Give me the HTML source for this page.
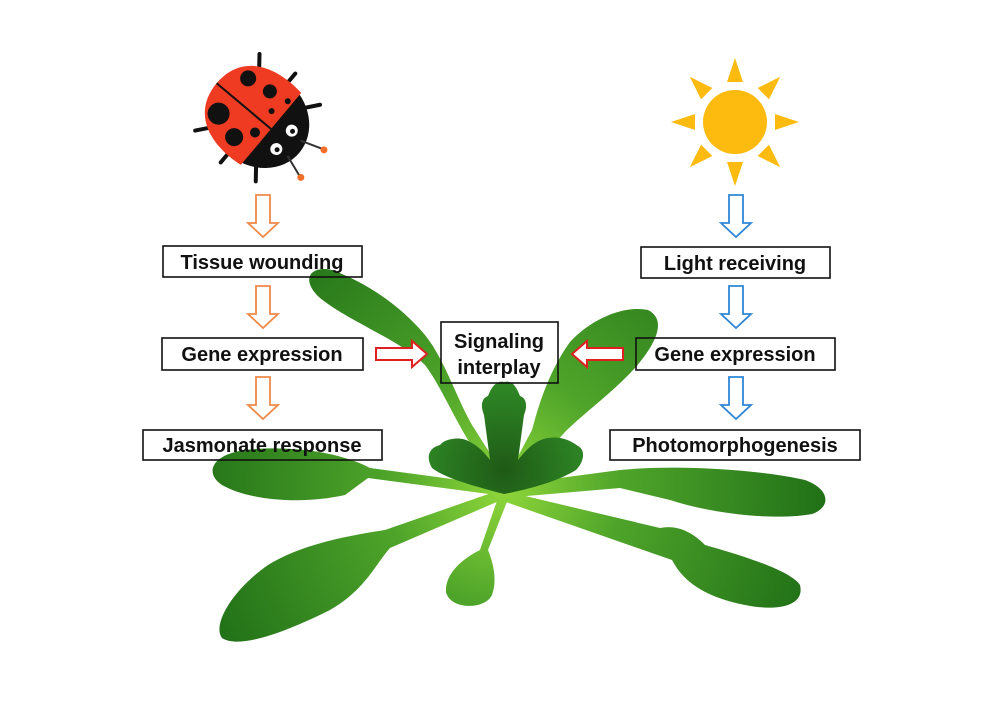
<!DOCTYPE html>
<html><head><meta charset="utf-8"><style>
html,body{margin:0;padding:0;background:#fff;}
svg{display:block;}
text{font-family:"Liberation Sans",Arial,sans-serif;font-weight:bold;font-size:20px;fill:#111;}
</style></head><body>
<svg width="1000" height="717" viewBox="0 0 1000 717" xmlns="http://www.w3.org/2000/svg">
<defs>
<radialGradient id="g" cx="504" cy="490" r="330" gradientUnits="userSpaceOnUse">
<stop offset="0" stop-color="#8fd63a"/><stop offset="0.35" stop-color="#4fa52a"/><stop offset="1" stop-color="#1f6e17"/>
</radialGradient>
<radialGradient id="c" cx="504" cy="470" r="90" gradientUnits="userSpaceOnUse">
<stop offset="0" stop-color="#1f5a16"/><stop offset="1" stop-color="#2f8a26"/>
</radialGradient>
</defs>
<g fill="url(#g)">
<path d="M504 490 L468 440 C450 410 440 385 425 365 C400 340 350 322 320 298 C300 280 310 265 332 270 C365 282 400 305 425 335 C445 360 455 395 472 425 L512 488 Z"/>
<path d="M500 490 L532 430 C540 400 550 370 570 342 C592 318 625 305 648 310 C668 320 655 345 635 368 C610 395 585 412 565 432 L512 492 Z"/>
<path d="M504 486 L370 468 C340 452 290 445 245 450 C210 455 205 474 222 485 C248 500 300 505 345 495 L368 478 L504 496 Z"/>
<path d="M500 486 L620 470 C680 464 760 470 805 480 C832 490 830 508 812 514 C780 520 720 516 670 500 L620 488 L504 498 Z"/>
<path d="M500 490 L385 530 C345 536 300 545 268 565 C232 590 212 625 222 638 C240 650 290 630 330 610 C365 590 375 565 390 548 L506 498 Z"/>
<path d="M500 492 L480 550 C460 560 445 575 446 592 C450 610 485 610 492 595 C498 578 492 560 488 550 L510 494 Z"/>
<path d="M500 490 L660 528 C675 525 690 530 705 545 C740 555 790 570 800 585 C805 605 780 612 745 605 C710 598 685 585 672 560 L500 500 Z"/>
</g>
<g fill="url(#c)">
<path d="M504 494 C470 485 445 478 432 468 C426 458 428 448 440 445 C445 438 462 436 470 442 C478 446 484 452 490 460 L484 415 C480 405 482 398 488 396 C492 385 498 380 504 382 C512 380 516 386 520 396 C526 398 528 405 524 415 L518 460 C526 450 535 440 548 438 C560 436 570 440 578 446 C586 450 584 462 576 470 C560 480 535 488 504 494 Z"/>
</g>
<g fill="none" stroke="#111" stroke-width="1.6">
<rect x="163" y="246" width="199" height="31"/>
<rect x="162" y="338" width="201" height="32"/>
<rect x="143" y="430" width="239" height="30"/>
<rect x="441" y="322" width="117" height="61"/>
<rect x="641" y="247" width="189" height="31"/>
<rect x="636" y="338" width="199" height="32"/>
<rect x="610" y="430" width="250" height="30"/>
</g>
<text x="262" y="269" text-anchor="middle">Tissue wounding</text>
<text x="262" y="361" text-anchor="middle">Gene expression</text>
<text x="262" y="452" text-anchor="middle">Jasmonate response</text>
<text x="499" y="348" text-anchor="middle">Signaling</text>
<text x="499" y="374" text-anchor="middle">interplay</text>
<text x="735" y="270" text-anchor="middle">Light receiving</text>
<text x="735" y="361" text-anchor="middle">Gene expression</text>
<text x="735" y="452" text-anchor="middle">Photomorphogenesis</text>
<g fill="#fff" stroke="#ef8a4a" stroke-width="1.8">
<path d="M256 195 h14 v28 h8 l-15 14 l-15 -14 h8 z"/>
<path d="M256 286 h14 v28 h8 l-15 14 l-15 -14 h8 z"/>
<path d="M256 377 h14 v28 h8 l-15 14 l-15 -14 h8 z"/>
</g>
<g fill="#fff" stroke="#2f86d6" stroke-width="1.8">
<path d="M729 195 h14 v28 h8 l-15 14 l-15 -14 h8 z"/>
<path d="M729 286 h14 v28 h8 l-15 14 l-15 -14 h8 z"/>
<path d="M729 377 h14 v28 h8 l-15 14 l-15 -14 h8 z"/>
</g>
<g fill="#fff" stroke="#e02020" stroke-width="2">
<path d="M376 348 h36 v-7 l15 13 l-15 13 v-7 h-36 z"/>
<path d="M623 348 h-36 v-7 l-15 13 l15 13 v-7 h36 z"/>
</g>
<g fill="#fdbb10">
<circle cx="735" cy="122" r="32"/>
<g id="r"><path d="M727 82 L735 58 L743 82 Z"/></g>
<use href="#r" transform="rotate(45 735 122)"/>
<use href="#r" transform="rotate(90 735 122)"/>
<use href="#r" transform="rotate(135 735 122)"/>
<use href="#r" transform="rotate(180 735 122)"/>
<use href="#r" transform="rotate(225 735 122)"/>
<use href="#r" transform="rotate(270 735 122)"/>
<use href="#r" transform="rotate(315 735 122)"/>
</g>
<g transform="translate(8 0) rotate(-50 250 118)">
<g stroke="#111" stroke-width="4" stroke-linecap="round">
<line x1="215" y1="90" x2="200" y2="78"/><line x1="210" y1="118" x2="192" y2="118"/><line x1="215" y1="145" x2="200" y2="157"/>
<line x1="285" y1="90" x2="300" y2="78"/><line x1="290" y1="118" x2="308" y2="118"/><line x1="285" y1="145" x2="300" y2="157"/>
</g>
<ellipse cx="250" cy="118" rx="47" ry="54" fill="#111"/>
<path d="M203 135 C198 95 213 64 250 64 C287 64 302 95 297 135 Z" fill="#ee3b22"/>
<line x1="250" y1="64" x2="250" y2="135" stroke="#111" stroke-width="2"/>
<g fill="#111">
<circle cx="228" cy="85" r="11"/><circle cx="274" cy="85" r="8"/>
<circle cx="220" cy="112" r="9"/><circle cx="278" cy="110" r="7"/>
<circle cx="237" cy="125" r="5"/><circle cx="264" cy="124" r="3"/>
<circle cx="282" cy="130" r="3"/>
</g>
<circle cx="238" cy="152" r="6" fill="#fff"/><circle cx="262" cy="152" r="6" fill="#fff"/>
<circle cx="238" cy="153" r="2.5" fill="#111"/><circle cx="262" cy="153" r="2.5" fill="#111"/>
<g stroke="#333" stroke-width="2"><line x1="240" y1="165" x2="232" y2="188"/><line x1="260" y1="165" x2="268" y2="188"/></g>
<circle cx="232" cy="189" r="3.5" fill="#f0702a"/><circle cx="268" cy="189" r="3.5" fill="#f0702a"/>
</g>
</svg>
</body></html>
